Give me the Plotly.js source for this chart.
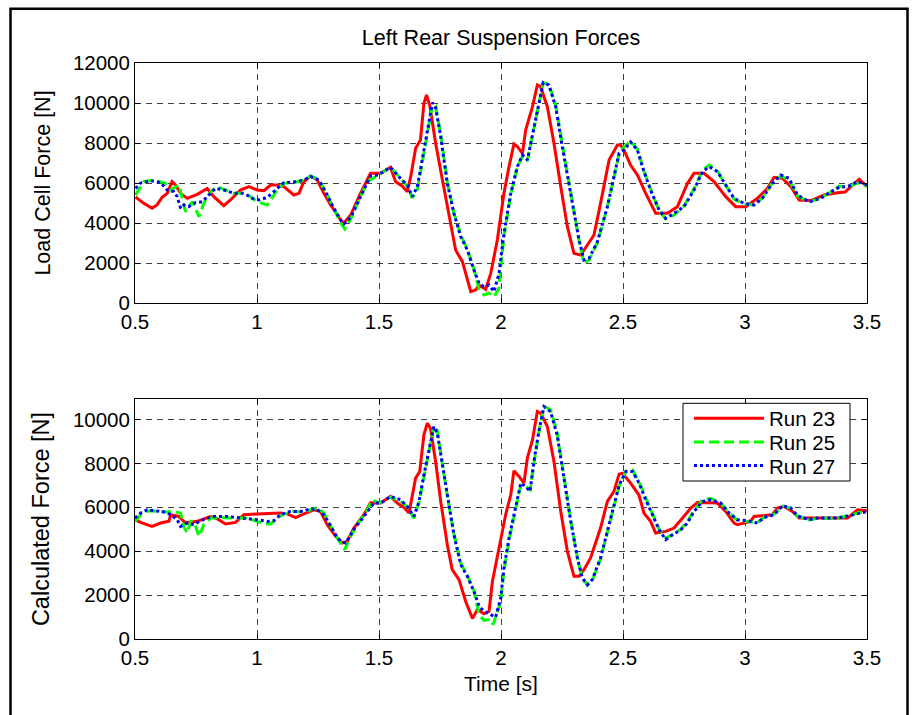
<!DOCTYPE html>
<html>
<head>
<meta charset="utf-8">
<script src="https://cdn.plot.ly/plotly-3.0.1.min.js"></script>
<style>html,body{margin:0;padding:0;background:#fff;}#chart{width:914px;height:715px;}</style>
</head>
<body>
<div id="chart"></div>
<script>
// ---------- Data ----------
const seriesNames = ["Run 23", "Run 25", "Run 27"];
const titleText = "Left Rear Suspension Forces";
const topYTitle = "Load Cell Force [N]";
const botYTitle = "Calculated Force [N]";
const xTitle = "Time [s]";

const xTickVals = [0.5, 1, 1.5, 2, 2.5, 3, 3.5];
const xTickText = ["0.5", "1", "1.5", "2", "2.5", "3", "3.5"];
const yTopTickVals = [0, 2000, 4000, 6000, 8000, 10000, 12000];
const yTopTickText = ["0", "2000", "4000", "6000", "8000", "10000", "12000"];
const yBotTickVals = [0, 2000, 4000, 6000, 8000, 10000];
const yBotTickText = ["0", "2000", "4000", "6000", "8000", "10000"];

// Top plot: Load cell force
const t23a = [0.502,0.536,0.57,0.59,0.611,0.632,0.652,0.666,0.687,0.714,0.755,0.796,0.823,0.864,0.891,0.932,0.967,1.001,1.028,1.056,1.083,1.11,1.151,1.172,1.192,1.22,1.247,1.274,1.302,1.343,1.356,1.384,1.424,1.465,1.507,1.547,1.568,1.595,1.616,1.63,1.65,1.67,1.684,1.695,1.709,1.732,1.76,1.794,1.814,1.842,1.876,1.896,1.91,1.937,1.958,1.985,2.012,2.033,2.053,2.067,2.088,2.101,2.129,2.149,2.162,2.19,2.217,2.245,2.272,2.299,2.327,2.354,2.381,2.408,2.443,2.477,2.49,2.504,2.531,2.559,2.593,2.634,2.682,2.723,2.764,2.791,2.832,2.873,2.921,2.962,3.003,3.051,3.092,3.119,3.154,3.188,3.222,3.27,3.324,3.379,3.41,3.434,3.468,3.5];
const f23a = [5300,4983,4733,4900,5283,5483,6067,5900,5483,5233,5433,5733,5317,4867,5150,5650,5817,5650,5617,5900,5900,5817,5400,5483,6067,6350,6150,5483,4900,4150,4000,4400,5483,6483,6483,6783,6067,5850,5567,6317,7733,8150,9983,10400,9817,7983,6150,3817,2650,2067,567,650,900,683,1483,3150,5483,6817,7950,7817,7483,8650,9817,10900,10817,9817,7983,5817,3817,2483,2400,2900,3400,4983,7150,7900,7900,7650,6900,6400,5483,4483,4483,4817,5983,6483,6483,6067,5317,4817,4817,5233,5733,6283,6233,5817,5150,5117,5400,5517,5550,5817,6183,5817];

const t25a = [0.502,0.536,0.577,0.625,0.646,0.68,0.707,0.735,0.762,0.782,0.81,0.837,0.905,0.953,1.001,1.042,1.083,1.11,1.165,1.192,1.22,1.254,1.288,1.315,1.343,1.36,1.384,1.418,1.452,1.497,1.547,1.588,1.616,1.636,1.657,1.677,1.698,1.719,1.732,1.753,1.78,1.807,1.835,1.862,1.889,1.91,1.93,1.951,1.971,1.99,2.012,2.04,2.067,2.088,2.108,2.129,2.149,2.173,2.196,2.224,2.251,2.286,2.32,2.34,2.361,2.395,2.436,2.484,2.504,2.531,2.559,2.586,2.613,2.648,2.675,2.709,2.75,2.791,2.826,2.853,2.887,2.921,2.955,2.996,3.037,3.071,3.112,3.146,3.18,3.215,3.263,3.311,3.352,3.386,3.42,3.461,3.5];
const f25a = [5400,6067,6150,5983,5650,5900,4567,5067,4317,4983,5567,5817,5483,5483,5067,4900,5650,5983,6067,6150,6350,6150,5400,4733,4000,3700,4200,5150,6067,6400,6800,6233,5850,5250,5650,7000,8400,9900,9850,8400,6050,4500,3400,2700,1700,700,400,500,300,700,3300,5400,6800,7350,7100,8300,9600,11000,10950,9900,7900,5500,3100,2000,2150,3000,4800,7450,7800,8100,7700,6600,5700,4600,4200,4400,4850,5700,6650,6900,6600,5900,5200,4950,4900,5250,6000,6350,6150,5350,5050,5250,5550,5850,5800,6000,5850];

const t27a = [0.502,0.523,0.564,0.605,0.632,0.659,0.673,0.687,0.7,0.72,0.748,0.776,0.803,0.83,0.864,0.905,0.946,0.981,1.008,1.042,1.069,1.11,1.165,1.192,1.22,1.254,1.288,1.315,1.343,1.356,1.384,1.418,1.452,1.465,1.497,1.547,1.588,1.616,1.636,1.657,1.677,1.698,1.719,1.732,1.753,1.78,1.807,1.835,1.862,1.889,1.91,1.93,1.951,1.971,1.992,2.012,2.04,2.067,2.088,2.108,2.129,2.149,2.173,2.196,2.224,2.251,2.286,2.32,2.34,2.361,2.395,2.436,2.484,2.504,2.531,2.559,2.586,2.613,2.648,2.675,2.709,2.75,2.791,2.826,2.853,2.887,2.921,2.955,2.996,3.037,3.071,3.112,3.146,3.18,3.215,3.263,3.311,3.352,3.386,3.42,3.461,3.5];
const f27a = [5733,6000,6117,6017,5650,5567,5317,4733,4900,4817,5017,5067,5400,5733,5650,5483,5483,5233,5150,5283,5567,6017,6067,6150,6317,6150,5400,4733,4150,3950,4283,5150,6067,6350,6400,6783,6233,5900,5317,5817,7150,8483,10017,9767,8317,5983,4483,3317,2650,1650,983,817,900,567,1483,3483,5483,6817,7400,7150,8400,9650,11017,10900,9817,7817,5483,3150,2150,2233,3067,4817,7483,7650,8050,7650,6567,5650,4650,4233,4483,4817,5650,6567,6817,6567,5900,5233,4983,4900,5233,5983,6400,6233,5400,5067,5233,5567,5783,5817,6067,5900];

// Bottom plot: Calculated force
const t23b = [0.5,0.523,0.57,0.605,0.639,0.646,0.68,0.707,0.755,0.809,0.836,0.871,0.912,0.946,1.001,1.056,1.096,1.124,1.158,1.192,1.233,1.26,1.288,1.322,1.349,1.37,1.397,1.438,1.465,1.507,1.547,1.575,1.602,1.623,1.636,1.65,1.667,1.684,1.698,1.711,1.732,1.753,1.78,1.8,1.828,1.855,1.883,1.903,1.93,1.951,1.965,1.992,2.019,2.04,2.053,2.074,2.094,2.108,2.129,2.149,2.163,2.19,2.217,2.245,2.272,2.299,2.32,2.34,2.367,2.408,2.436,2.463,2.484,2.498,2.531,2.565,2.586,2.613,2.634,2.675,2.709,2.744,2.778,2.805,2.86,2.887,2.921,2.955,2.969,2.996,3.023,3.037,3.078,3.112,3.133,3.16,3.194,3.222,3.27,3.338,3.42,3.461,3.5];
const f23b = [5432,5310,5128,5280,5360,5660,5580,5280,5360,5580,5480,5240,5310,5660,5690,5700,5740,5700,5530,5700,5886,5810,5200,4673,4370,4445,5050,5660,6200,6190,6492,6190,5990,5735,6568,7326,7630,9295,9826,9600,8083,6265,4295,3159,2705,1720,932,1340,1144,1265,2629,4144,5659,6568,7659,7402,7098,8235,9068,10356,10280,9674,8083,5810,3992,2856,2856,3159,3690,5053,6265,6720,7508,7550,7098,6568,5735,5356,4826,4902,5053,5508,5962,6220,6220,6190,5810,5280,5205,5280,5356,5580,5610,5660,5962,6038,5810,5508,5508,5508,5508,5886,5840];

const t25b = [0.5,0.523,0.557,0.632,0.652,0.687,0.7,0.714,0.728,0.744,0.762,0.782,0.81,0.85,0.905,0.96,1.001,1.028,1.056,1.083,1.11,1.151,1.192,1.247,1.274,1.302,1.329,1.359,1.384,1.411,1.452,1.473,1.5,1.547,1.588,1.616,1.643,1.664,1.684,1.705,1.725,1.739,1.76,1.78,1.807,1.835,1.862,1.889,1.91,1.93,1.958,1.968,1.999,2.012,2.033,2.053,2.081,2.101,2.119,2.135,2.155,2.176,2.203,2.23,2.258,2.286,2.313,2.333,2.354,2.374,2.408,2.443,2.484,2.512,2.539,2.566,2.593,2.621,2.648,2.675,2.703,2.737,2.764,2.791,2.826,2.86,2.9,2.935,2.969,3.01,3.051,3.078,3.119,3.154,3.188,3.215,3.263,3.297,3.379,3.434,3.468,3.5];
const f25b = [5356,5660,5840,5780,5810,5735,5128,4826,5356,5280,4673,5205,5508,5530,5508,5508,5356,5240,5240,5508,5690,5810,5780,5990,5735,5128,4600,4068,4673,5205,5886,6343,6190,6450,6300,6000,5500,6200,7400,8600,9700,9500,8000,6500,4800,3450,2900,2200,1100,850,900,660,1700,3100,4500,5600,7000,6950,6800,8000,9400,10600,10450,9400,7400,5400,3700,2800,2450,2650,3650,5200,6950,7650,7700,7150,6400,5700,5000,4600,4750,5000,5350,5850,6350,6400,6200,5750,5400,5350,5300,5550,5680,6050,5950,5600,5420,5500,5500,5650,5750,5800];

const t27b = [0.5,0.523,0.55,0.591,0.625,0.646,0.673,0.687,0.714,0.741,0.769,0.796,0.823,0.878,0.932,0.973,1.001,1.042,1.069,1.096,1.137,1.178,1.22,1.247,1.274,1.295,1.322,1.343,1.363,1.384,1.404,1.418,1.452,1.479,1.507,1.547,1.588,1.616,1.643,1.664,1.684,1.705,1.725,1.739,1.76,1.78,1.807,1.835,1.862,1.889,1.91,1.93,1.958,1.978,1.999,2.012,2.033,2.053,2.081,2.101,2.119,2.135,2.155,2.176,2.203,2.23,2.258,2.286,2.313,2.333,2.354,2.374,2.408,2.443,2.484,2.512,2.539,2.566,2.593,2.621,2.648,2.675,2.703,2.737,2.764,2.791,2.826,2.86,2.9,2.935,2.969,3.01,3.051,3.078,3.119,3.154,3.188,3.215,3.263,3.297,3.379,3.434,3.468,3.5];
const f27b = [5508,5735,5886,5840,5780,5660,5432,5128,5280,5205,5386,5508,5580,5580,5530,5480,5432,5356,5386,5660,5810,5810,5930,5886,5660,5280,4750,4445,4370,4750,5128,5280,5810,6190,6190,6492,6343,6038,5580,6265,7477,8690,9674,9371,7932,6416,4750,3386,2856,2174,1492,1265,1114,992,1870,3235,4600,5659,7098,6946,6720,8083,9447,10583,10356,9295,7326,5356,3690,2780,2477,2705,3690,5205,7000,7629,7629,7098,6340,5660,4977,4523,4750,4977,5280,5810,6265,6340,6190,5735,5432,5386,5280,5530,5660,6068,5962,5610,5432,5508,5508,5630,5735,5810];

// ---------- Styles ----------
const FONT = "Liberation Sans, Arial, Helvetica, sans-serif";
const styles = [
  {color: "#ff0000", width: 3, dash: "solid"},
  {color: "#00ff00", width: 3, dash: "10px,5px"},
  {color: "#0000ff", width: 3, dash: "dot"}
];
const legendIds = ["legend", "legend2", "legend3"];
const topX = [t23a, t25a, t27a], topY = [f23a, f25a, f27a];
const botX = [t23b, t25b, t27b], botY = [f23b, f25b, f27b];

const traces = [];
for (let i = 0; i < 3; i++) {
  traces.push({x: topX[i], y: topY[i], xaxis: "x", yaxis: "y", type: "scatter", mode: "lines",
    name: seriesNames[i], showlegend: false, line: styles[i]});
}
for (let i = 0; i < 3; i++) {
  traces.push({x: botX[i], y: botY[i], xaxis: "x2", yaxis: "y2", type: "scatter", mode: "lines",
    name: seriesNames[i], showlegend: true, legend: legendIds[i], line: styles[i]});
}

const W = 914, H = 715;
const L = 135, R = 47, T = 63, B = 76;
const pw = W - L - R, ph = H - T - B;
const px2x = v => (v - L) / pw;          // figure px -> paper x
const py2y = v => (H - B - v) / ph;      // figure px -> paper y

function xAxisCfg(anchor, title) {
  const a = {
    anchor: anchor, domain: [0, 1], range: [0.5, 3.5],
    tickmode: "array", tickvals: xTickVals, ticktext: xTickText,
    ticks: "inside", ticklen: 5, tickwidth: 1, tickcolor: "#000",
    showline: true, linecolor: "#000", linewidth: 1, mirror: "ticks",
    showgrid: true, gridcolor: "rgba(0,0,0,0.75)", gridwidth: 1, griddash: "6px,5px",
    zeroline: false, automargin: false,
    tickfont: {family: FONT, size: 20.5, color: "#000"}
  };
  if (title) a.title = {text: title, font: {family: FONT, size: 21, color: "#000"}, standoff: 8};
  return a;
}
function yAxisCfg(anchor, domain, range, vals, text, title, tsize) {
  return {
    anchor: anchor, domain: domain, range: range,
    tickmode: "array", tickvals: vals, ticktext: text,
    ticks: "inside", ticklen: 5, tickwidth: 1, tickcolor: "#000",
    showline: true, linecolor: "#000", linewidth: 1, mirror: "ticks",
    showgrid: true, gridcolor: "rgba(0,0,0,0.75)", gridwidth: 1, griddash: "6px,5px",
    zeroline: false, automargin: false,
    tickfont: {family: FONT, size: 20.5, color: "#000"},
    title: {text: title, font: {family: FONT, size: tsize, color: "#000"}, standoff: 16}
  };
}
function legendCfg(yc) {
  return {
    x: px2x(689), y: py2y(yc), xanchor: "left", yanchor: "middle",
    bgcolor: "rgba(0,0,0,0)", borderwidth: 0,
    font: {family: FONT, size: 20.5, color: "#000"},
    itemwidth: 70
  };
}

const layout = {
  width: W, height: H,
  margin: {l: L, r: R, t: T, b: B, pad: 0},
  paper_bgcolor: "#fff", plot_bgcolor: "#fff",
  font: {family: FONT, color: "#000"},
  title: {text: titleText, font: {family: FONT, size: 21.5, color: "#000"},
          xref: "paper", x: 0.5, xanchor: "center", yref: "container", y: 1 - 37 / H, yanchor: "middle"},
  xaxis: xAxisCfg("y", null),
  yaxis: yAxisCfg("x", [py2y(303), 1], [0, 12000], yTopTickVals, yTopTickText, topYTitle, 21.5),
  xaxis2: xAxisCfg("y2", xTitle),
  yaxis2: yAxisCfg("x2", [0, py2y(399)], [0, 10930], yBotTickVals, yBotTickText, botYTitle, 23.5),
  showlegend: true,
  legend: legendCfg(418.5),
  legend2: legendCfg(442.3),
  legend3: legendCfg(465.8),
  shapes: [
    { // legend box
      type: "rect", xref: "paper", yref: "paper",
      x0: px2x(683), x1: px2x(850), y0: py2y(481), y1: py2y(403.3),
      line: {color: "#000", width: 1}, fillcolor: "#fff", layer: "above"
    },
    { // figure frame
      type: "rect", xref: "paper", yref: "paper",
      x0: px2x(10.5), x1: px2x(907.5), y0: py2y(717), y1: py2y(8.7),
      line: {color: "#000", width: 2.5}, fillcolor: "rgba(0,0,0,0)", layer: "above"
    }
  ]
};

Plotly.newPlot("chart", traces, layout, {staticPlot: true, displayModeBar: false});
</script>
</body>
</html>
